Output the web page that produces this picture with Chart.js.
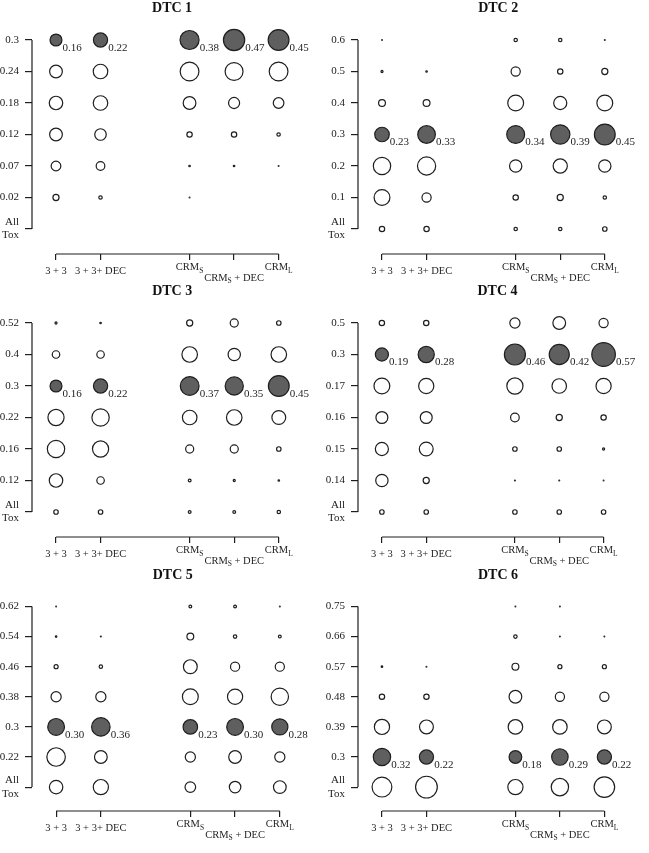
<!DOCTYPE html>
<html>
<head>
<meta charset="utf-8">
<script src="https://cdn.jsdelivr.net/npm/chart.js@4.4.1/dist/chart.umd.min.js"></script>
<style>
html,body{margin:0;padding:0;background:#fff;overflow:hidden;width:649px;height:853px;position:relative}
canvas{position:absolute}
</style>
</head>
<body>
<canvas id="c1" width="324" height="300" style="left:0;top:0"></canvas>
<canvas id="c2" width="324" height="300" style="left:326px;top:0"></canvas>
<canvas id="c3" width="324" height="300" style="left:0;top:283px"></canvas>
<canvas id="c4" width="324" height="300" style="left:326px;top:283px"></canvas>
<canvas id="c5" width="324" height="290" style="left:0;top:567px"></canvas>
<canvas id="c6" width="324" height="290" style="left:326px;top:567px"></canvas>
<script>
// ---- data ----
const methods = ['3 + 3', '3 + 3+ DEC', 'CRM_S', 'CRM_S + DEC', 'CRM_L'];
const methodSlots = [1, 2, 4, 5, 6];
const targetLevel = '0.3';

// rows listed top -> bottom; each inner array is one design (same order as methods)
const dtc1Doses = ['0.3', '0.24', '0.18', '0.12', '0.07', '0.02', 'All Tox'];
const dtc1Selection = [
  [0.16, 0.18, 0.20, 0.18, 0.11, 0.05, 0],
  [0.22, 0.23, 0.23, 0.15, 0.09, 0.02, 0],
  [0.38, 0.37, 0.18, 0.04, 0.007, 0.002, 0],
  [0.47, 0.34, 0.14, 0.04, 0.007, 0, 0],
  [0.45, 0.37, 0.13, 0.02, 0.002, 0, 0]
];

const dtc2Doses = ['0.6', '0.5', '0.4', '0.3', '0.2', '0.1', 'All Tox'];
const dtc2Selection = [
  [0.002, 0.01, 0.06, 0.23, 0.32, 0.27, 0.04],
  [0, 0.007, 0.06, 0.33, 0.35, 0.10, 0.04],
  [0.02, 0.10, 0.27, 0.34, 0.17, 0.04, 0.02],
  [0.02, 0.04, 0.19, 0.39, 0.22, 0.05, 0.02],
  [0.004, 0.05, 0.27, 0.45, 0.17, 0.02, 0.03]
];

const dtc3Doses = ['0.52', '0.4', '0.3', '0.22', '0.16', '0.12', 'All Tox'];
const dtc3Selection = [
  [0.01, 0.07, 0.16, 0.28, 0.32, 0.20, 0.03],
  [0.007, 0.07, 0.22, 0.32, 0.28, 0.07, 0.03],
  [0.05, 0.26, 0.37, 0.23, 0.08, 0.015, 0.015],
  [0.08, 0.17, 0.35, 0.26, 0.08, 0.01, 0.015],
  [0.03, 0.26, 0.45, 0.21, 0.03, 0.007, 0.02]
];

const dtc4Doses = ['0.5', '0.3', '0.17', '0.16', '0.15', '0.14', 'All Tox'];
const dtc4Selection = [
  [0.04, 0.19, 0.27, 0.16, 0.19, 0.17, 0.03],
  [0.04, 0.28, 0.25, 0.16, 0.21, 0.05, 0.03],
  [0.12, 0.46, 0.28, 0.09, 0.03, 0.004, 0.03],
  [0.18, 0.42, 0.23, 0.05, 0.03, 0.004, 0.03],
  [0.10, 0.57, 0.25, 0.04, 0.01, 0.002, 0.03]
];

const dtc5Doses = ['0.62', '0.54', '0.46', '0.38', '0.3', '0.22', 'All Tox'];
const dtc5Selection = [
  [0.002, 0.007, 0.026, 0.12, 0.30, 0.36, 0.20],
  [0, 0.004, 0.02, 0.12, 0.36, 0.18, 0.25],
  [0.015, 0.06, 0.21, 0.27, 0.23, 0.12, 0.13],
  [0.015, 0.02, 0.10, 0.25, 0.30, 0.18, 0.15],
  [0.002, 0.015, 0.10, 0.32, 0.28, 0.12, 0.18]
];

const dtc6Doses = ['0.75', '0.66', '0.57', '0.48', '0.39', '0.3', 'All Tox'];
const dtc6Selection = [
  [0, 0, 0.007, 0.04, 0.25, 0.32, 0.41],
  [0, 0, 0.002, 0.04, 0.21, 0.22, 0.49],
  [0.002, 0.02, 0.06, 0.18, 0.23, 0.18, 0.25],
  [0.002, 0.002, 0.026, 0.10, 0.23, 0.29, 0.32],
  [0, 0.001, 0.026, 0.10, 0.21, 0.22, 0.44]
];

const panelTitles = ['DTC 1', 'DTC 2', 'DTC 3', 'DTC 4', 'DTC 5', 'DTC 6'];

// ---- rendering ----
const SERIF = "'Liberation Serif', 'Times New Roman', serif";
const INK = '#1e1e1e';
const FILL = '#5f5f5f';
const labelOffsets = [17.7, 17.7, 13.7, 24.3, 13.7];

function outerRadius(p) { return 16.4 * Math.sqrt(p); }

function buildPoints(doses, selection, wantTarget) {
  const pts = [];
  const n = doses.length;
  selection.forEach((col, m) => {
    col.forEach((p, i) => {
      if (p <= 0) return;
      const isTarget = doses[i] === targetLevel;
      if (isTarget !== wantTarget) return;
      pts.push({ x: methodSlots[m], y: n - 1 - i, r: Math.max(outerRadius(p) - 0.6, 0.4), p: p });
    });
  });
  return pts;
}

function drawRichLabel(ctx, text, cx, cy) {
  // '_X' means X is a subscript
  const parts = [];
  const re = /_(.)/g;
  let last = 0, mt;
  while ((mt = re.exec(text)) !== null) {
    if (mt.index > last) parts.push({ t: text.slice(last, mt.index), sub: false });
    parts.push({ t: mt[1], sub: true });
    last = mt.index + 2;
  }
  if (last < text.length) parts.push({ t: text.slice(last), sub: false });
  const mainFont = '10.5px ' + SERIF;
  const subFont = '7.5px ' + SERIF;
  let w = 0;
  parts.forEach(pt => { ctx.font = pt.sub ? subFont : mainFont; pt.w = ctx.measureText(pt.t).width; w += pt.w; });
  let x = cx - w / 2;
  ctx.textAlign = 'left';
  ctx.textBaseline = 'middle';
  parts.forEach(pt => {
    ctx.font = pt.sub ? subFont : mainFont;
    ctx.fillText(pt.t, x, cy + (pt.sub ? 3 : 0));
    x += pt.w;
  });
}

const rPlot = {
  id: 'rPlot',
  afterDatasetsDraw(chart) {
    const { ctx, chartArea, scales } = chart;
    const xs = scales.x, ys = scales.y;
    const n = chart.options.plugins.rPlot.rows;
    ctx.save();
    // axis lines spanning first to last tick (R style)
    ctx.strokeStyle = INK;
    ctx.lineWidth = 1.2;
    ctx.beginPath();
    ctx.moveTo(chartArea.left, ys.getPixelForValue(0));
    ctx.lineTo(chartArea.left, ys.getPixelForValue(n - 1));
    ctx.moveTo(xs.getPixelForValue(methodSlots[0]), chartArea.bottom);
    ctx.lineTo(xs.getPixelForValue(methodSlots[methodSlots.length - 1]), chartArea.bottom);
    ctx.stroke();
    // x labels with subscripts, staggered
    ctx.fillStyle = INK;
    methods.forEach((lab, m) => {
      drawRichLabel(ctx, lab, xs.getPixelForValue(methodSlots[m]), chartArea.bottom + labelOffsets[m]);
    });
    // value labels for the target row
    const meta = chart.getDatasetMeta(1);
    const data = chart.data.datasets[1].data;
    ctx.font = '11px ' + SERIF;
    ctx.textAlign = 'left';
    ctx.textBaseline = 'middle';
    meta.data.forEach((el, j) => {
      const p = data[j].p;
      ctx.fillText(p.toFixed(2), el.x + outerRadius(p), el.y + 8);
    });
    ctx.restore();
  }
};

function makeChart(id, title, doses, selection) {
  const n = doses.length;
  const topPad = 12; // px above top row inside chart area
  const unitY = 31.5;
  new Chart(document.getElementById(id), {
    type: 'bubble',
    data: {
      datasets: [
        { data: buildPoints(doses, selection, false), backgroundColor: '#ffffff', borderColor: INK, borderWidth: 1.2, clip: false },
        { data: buildPoints(doses, selection, true), backgroundColor: FILL, borderColor: INK, borderWidth: 1.2, clip: false }
      ]
    },
    options: {
      responsive: false,
      animation: false,
      events: [],
      layout: { padding: 0 },
      plugins: {
        legend: { display: false },
        tooltip: { enabled: false },
        title: {
          display: true, text: title, fullSize: false, color: '#111',
          font: { family: SERIF, size: 14, weight: 'bold', lineHeight: '16px' },
          padding: { top: 0, bottom: 12 }
        },
        rPlot: { rows: n }
      },
      scales: {
        x: {
          type: 'linear', min: 0.4612, max: 6.754,
          afterBuildTicks: s => { s.ticks = methodSlots.map(v => ({ value: v })); },
          afterFit: s => { s.height = 46; },
          ticks: { display: false },
          grid: { drawOnChartArea: false, drawTicks: true, tickLength: 6, color: INK, lineWidth: 1.2 },
          border: { display: false }
        },
        y: {
          type: 'linear',
          min: -25 / unitY,
          max: (n - 1) + topPad / unitY,
          afterBuildTicks: s => { s.ticks = doses.map((_, i) => ({ value: i })); },
          afterFit: s => { s.width = 32; },
          ticks: {
            autoSkip: false, padding: 6, color: '#222',
            font: { family: SERIF, size: 11, lineHeight: 1.2 },
            callback: v => { const lab = doses[n - 1 - v]; return lab === 'All Tox' ? ['All', 'Tox'] : lab; }
          },
          grid: { drawOnChartArea: false, drawTicks: true, tickLength: 7, color: INK, lineWidth: 1.2 },
          border: { display: false }
        }
      }
    },
    plugins: [rPlot]
  });
}

makeChart('c1', panelTitles[0], dtc1Doses, dtc1Selection);
makeChart('c2', panelTitles[1], dtc2Doses, dtc2Selection);
makeChart('c3', panelTitles[2], dtc3Doses, dtc3Selection);
makeChart('c4', panelTitles[3], dtc4Doses, dtc4Selection);
makeChart('c5', panelTitles[4], dtc5Doses, dtc5Selection);
makeChart('c6', panelTitles[5], dtc6Doses, dtc6Selection);
</script>
</body>
</html>
